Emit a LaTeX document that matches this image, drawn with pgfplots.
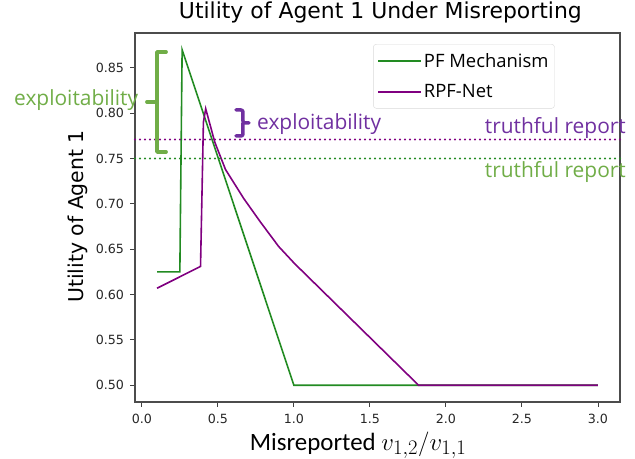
\documentclass[border=0pt]{standalone}
\usepackage{pgfplots}
\pgfplotsset{compat=1.18}
\usepackage{fontspec}
\setmainfont{DejaVu Sans}
\newfontfamily\osans{Open Sans}
\newfontfamily\carlito{Carlito}
\definecolor{lgreen}{RGB}{34,139,34}
\definecolor{lpurple}{RGB}{128,0,128}
\definecolor{agreen}{RGB}{112,173,71}
\definecolor{apurple}{RGB}{112,48,160}
\begin{document}
\begin{tikzpicture}
\path[use as bounding box] (-135bp,-57bp) rectangle (500bp,402bp);
\begin{axis}[
  at={(0,0)}, anchor=south west,
  scale only axis, width=485bp, height=369bp,
  xmin=-0.045, xmax=3.145, ymin=0.4815, ymax=0.8885,
  xtick={0,0.5,1,1.5,2,2.5,3},
  ytick={0.5,0.55,0.6,0.65,0.7,0.75,0.8,0.85},
  /pgf/number format/assume math mode=true,
  xticklabel style={yshift=-4bp, /pgf/number format/.cd, fixed, fixed zerofill, precision=1},
  yticklabel style={xshift=-3bp, /pgf/number format/.cd, fixed, fixed zerofill, precision=2},
  ticklabel style={font=\fontsize{12.7}{14}\selectfont, text=black!85},
  tick align=outside, major tick length=4.5bp,
  tick style={black!75, line width=0.9bp},
  xtick pos=bottom, ytick pos=left,
  axis line style={black!70, line width=1.1bp},
  clip=false,
  title={Utility of Agent 1 Under Misreporting},
  title style={at={(axis description cs:0.506,1)}, anchor=base, yshift=9bp, font=\fontsize{22}{26}\selectfont, inner sep=0pt},
  xlabel={Misreported {\fontsize{28}{32}\selectfont$v_{1,2}/v_{1,1}$}},
  xlabel style={at={(axis description cs:0.46,0)}, anchor=base, yshift=-48bp, font=\carlito\fontsize{25}{29}\selectfont, inner sep=0pt},
  ylabel={Utility of Agent 1},
  ylabel style={at={(axis description cs:-0.1072,0.503)}, anchor=base, font=\fontsize{20.5}{24}\selectfont, inner sep=0pt},
  legend style={at={(0.491,0.970)}, anchor=north west, draw=black!15, rounded corners=3bp,
    font=\osans\fontsize{18.5}{22}\selectfont, inner xsep=4bp, inner ysep=7bp, row sep=12bp,
    cells={anchor=west}},
  legend image code/.code={\draw[#1] (0bp,0bp) -- (43bp,0bp);},
  legend cell align=left,
]
\addplot[color=lgreen, line width=1.6bp] coordinates {
  (0.1,0.625) (0.25,0.625) (0.265,0.87) (1.0,0.5) (3.0,0.5)
};
\addlegendentry{PF Mechanism}
\addplot[color=lpurple, line width=1.6bp] coordinates {
  (0.1,0.607) (0.386,0.631) (0.405,0.79) (0.42,0.805) (0.48,0.768) (0.55,0.738)
  (0.67,0.706) (0.78,0.68) (0.9,0.653) (1.0,0.635) (1.03,0.63) (1.82,0.5) (3.0,0.5)
};
\addlegendentry{RPF-Net}
\addplot[draw=lpurple, line width=2.2bp, line cap=round, dash pattern=on 0bp off 5bp, forget plot] coordinates {
  (-0.045,0.771) (3.145,0.771)
};
\addplot[draw=lgreen, line width=2.2bp, line cap=round, dash pattern=on 0bp off 5bp, forget plot] coordinates {
  (-0.045,0.75) (3.145,0.75)
};
\end{axis}
\begin{scope}[x=1bp, y=-1bp, shift={(-135bp,402bp)}]
  \draw[agreen, line width=3.8bp, line cap=round, line join=round] (166,52) -- (157,52) -- (157,152) -- (166,152);
  \draw[agreen, line width=3.8bp, line cap=round] (157,102) -- (147,102);
  \node[agreen, anchor=base west, inner sep=0pt, font=\osans\fontsize{21}{24}\selectfont] at (14,106) {exploitability};
  \draw[apurple, line width=3.5bp, line cap=round, line join=round, rounded corners=2bp] (236,110) -- (243,110) -- (243,123) -- (249,123);
  \draw[apurple, line width=3.5bp, line cap=round, line join=round, rounded corners=2bp] (236,136) -- (243,136) -- (243,123);
  \node[apurple, anchor=base west, inner sep=0pt, font=\osans\fontsize{21}{24}\selectfont] at (257,130) {exploitability};
  \node[apurple, anchor=base east, inner sep=0pt, font=\osans\fontsize{21}{24}\selectfont] at (626,134) {truthful report};
  \node[agreen, anchor=base east, inner sep=0pt, font=\osans\fontsize{21}{24}\selectfont] at (626,178) {truthful report};
\end{scope}
\end{tikzpicture}
\end{document}
